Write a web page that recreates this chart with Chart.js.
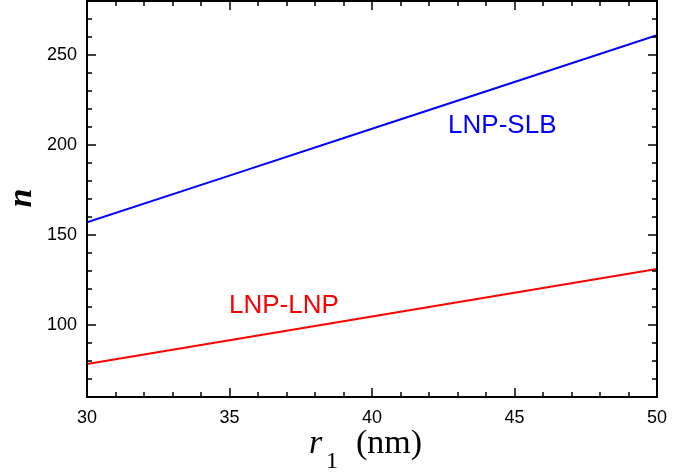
<!DOCTYPE html>
<html>
<head>
<meta charset="utf-8">
<script src="https://cdn.jsdelivr.net/npm/chart.js@4.4.0/dist/chart.umd.min.js"></script>
<style>
    html, body { margin: 0; padding: 0; background: #fff; }
    #wrap { width: 690px; height: 476px; }
</style>
</head>
<body>
<div id="wrap"><canvas id="chart"></canvas></div>
<script>
// Data
const radius = [30, 35, 40, 45, 50];
const nSlb = [157, 183, 209, 235, 261];
const nLnp = [78.3, 91.5, 104.7, 117.9, 131.1];
const xTicks = [30, 35, 40, 45, 50];
const yTicks = [100, 150, 200, 250];

// Axis ranges
const X_MIN = 30, X_MAX = 50, X_MINOR = 1;
const Y_MIN = 60, Y_MAX = 280, Y_MINOR = 10;

// In-plot labels (data coords of left / baseline)
const seriesLabels = [
    { text: 'LNP-SLB', x: 42.67, y: 206.5, color: '#0000ff' },
    { text: 'LNP-LNP', x: 34.98, y: 106.5, color: '#ff0000' }
];

// Frame, inward ticks, titles and labels
const framePlugin = {
    id: 'frame',
    afterDraw(chart) {
        const ctx = chart.ctx;
        const a = chart.chartArea;
        const xs = chart.scales.x;
        const ys = chart.scales.y;
        ctx.save();
        ctx.strokeStyle = '#000';
        ctx.lineWidth = 2;
        ctx.strokeRect(a.left, a.top, a.right - a.left, a.bottom - a.top);

        ctx.lineWidth = 1.5;
        ctx.beginPath();
        for (let v = X_MIN; v <= X_MAX + 1e-9; v += X_MINOR) {
            const px = Math.round(xs.getPixelForValue(v));
            const len = xTicks.includes(v) ? 9 : 5;
            ctx.moveTo(px, a.bottom); ctx.lineTo(px, a.bottom - len);
            ctx.moveTo(px, a.top); ctx.lineTo(px, a.top + len);
        }
        for (let v = Y_MIN; v <= Y_MAX + 1e-9; v += Y_MINOR) {
            const py = Math.round(ys.getPixelForValue(v));
            const len = yTicks.includes(v) ? 9 : 5;
            ctx.moveTo(a.left, py); ctx.lineTo(a.left + len, py);
            ctx.moveTo(a.right, py); ctx.lineTo(a.right - len, py);
        }
        ctx.stroke();

        // series labels
        ctx.textBaseline = 'alphabetic';
        ctx.textAlign = 'left';
        ctx.font = '26px "Liberation Sans", Arial, sans-serif';
        seriesLabels.forEach(l => {
            ctx.fillStyle = l.color;
            ctx.fillText(l.text, xs.getPixelForValue(l.x), ys.getPixelForValue(l.y));
        });

        // y title
        ctx.fillStyle = '#000';
        ctx.save();
        ctx.translate(31, 198);
        ctx.rotate(-Math.PI / 2);
        ctx.textAlign = 'center';
        ctx.font = 'italic bold 34px "Liberation Serif", "Times New Roman", serif';
        ctx.fillText('n', 0, 0);
        ctx.restore();

        // x title
        ctx.textAlign = 'left';
        ctx.font = 'italic 34px "Liberation Serif", "Times New Roman", serif';
        ctx.fillText('r', 309, 453);
        ctx.font = '24px "Liberation Serif", "Times New Roman", serif';
        ctx.fillText('1', 326, 468);
        ctx.font = '34px "Liberation Serif", "Times New Roman", serif';
        ctx.fillText('(nm)', 356, 453);
        ctx.restore();
    }
};

const ctx = document.getElementById('chart').getContext('2d');
new Chart(ctx, {
    type: 'line',
    data: {
        datasets: [
            {
                label: 'LNP-SLB',
                data: radius.map((r, i) => ({ x: r, y: nSlb[i] })),
                borderColor: '#0000ff',
                borderWidth: 2,
                pointRadius: 0,
                fill: false,
                tension: 0
            },
            {
                label: 'LNP-LNP',
                data: radius.map((r, i) => ({ x: r, y: nLnp[i] })),
                borderColor: '#ff0000',
                borderWidth: 2,
                pointRadius: 0,
                fill: false,
                tension: 0
            }
        ]
    },
    options: {
        responsive: true,
        maintainAspectRatio: false,
        animation: false,
        layout: { padding: { left: 0, right: 33, top: 1, bottom: 0 } },
        plugins: {
            legend: { display: false },
            tooltip: { enabled: false }
        },
        scales: {
            x: {
                type: 'linear',
                min: X_MIN,
                max: X_MAX,
                afterBuildTicks: (scale) => { scale.ticks = xTicks.map(v => ({ value: v })); },
                afterFit: (scale) => {
                    scale.height = 79;
                    scale.paddingLeft = 0;
                    scale.paddingRight = 0;
                },
                grid: { display: false, drawTicks: false },
                border: { display: false },
                ticks: {
                    color: '#000',
                    padding: 10,
                    maxRotation: 0,
                    font: { family: '"Liberation Sans", Arial, sans-serif', size: 18 }
                }
            },
            y: {
                type: 'linear',
                min: Y_MIN,
                max: Y_MAX,
                afterBuildTicks: (scale) => { scale.ticks = yTicks.map(v => ({ value: v })); },
                afterFit: (scale) => {
                    scale.width = 87;
                    scale.paddingTop = 0;
                    scale.paddingBottom = 0;
                },
                grid: { display: false, drawTicks: false },
                border: { display: false },
                ticks: {
                    color: '#000',
                    padding: 10,
                    font: { family: '"Liberation Sans", Arial, sans-serif', size: 18 }
                }
            }
        }
    },
    plugins: [framePlugin]
});
</script>
</body>
</html>
